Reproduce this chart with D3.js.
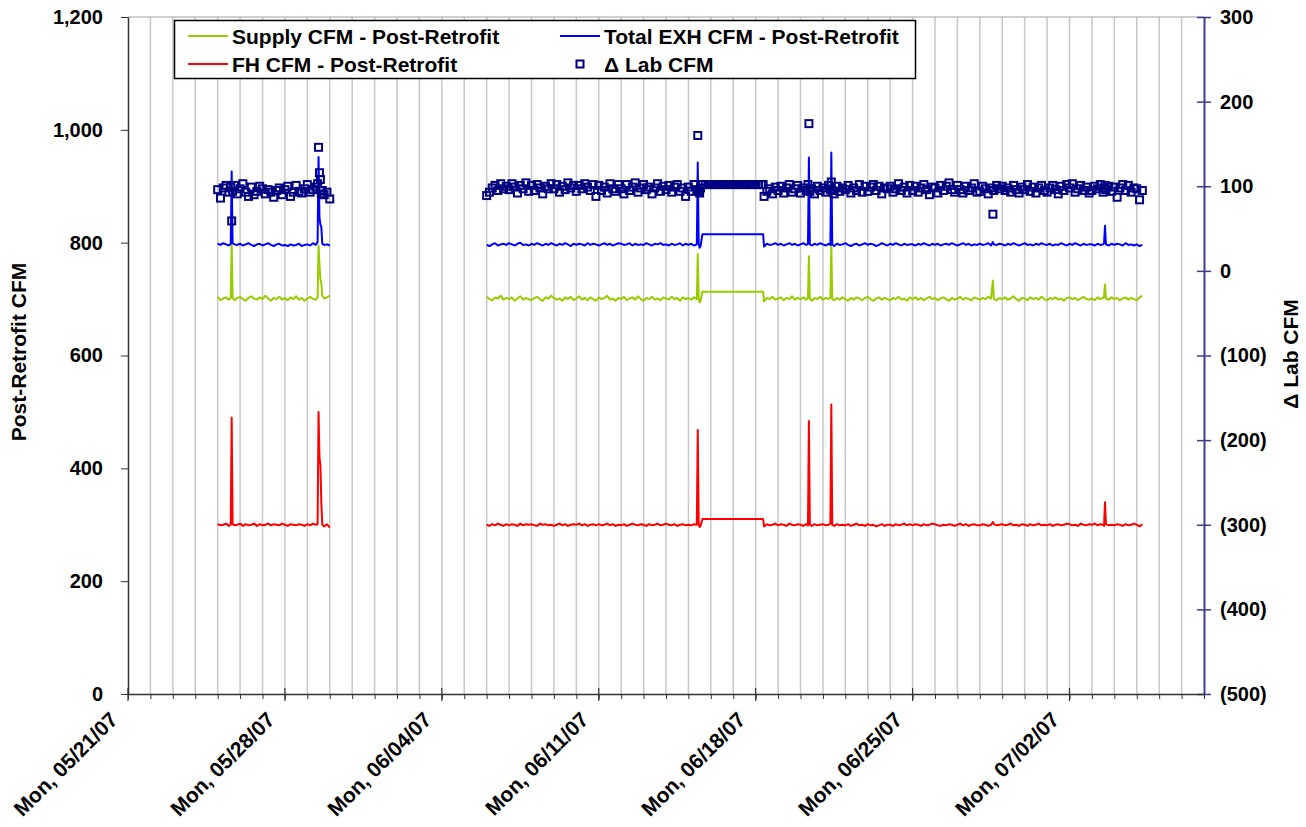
<!DOCTYPE html>
<meta charset="utf-8">
<style>
body { margin: 0; background: #fff; }
text { font-family: "Liberation Sans", Arial, sans-serif; font-weight: bold; }
.line { fill: none; stroke-width: 2px; stroke-linejoin: round; }
</style>
<script src="https://d3js.org/d3.v7.min.js"></script>
<body>
<div id="chart"></div>
</body>
<script>

// hours after Mon 05/21/07 00:00 (null row = logger gap)
var hours = [
  96,99,102,105,108,110,111,112,
  114,117,120,123,126,129,132,135,
  138,141,144,147,150,153,156,159,
  162,165,168,171,174,177,180,183,
  186,189,192,195,198,201,203,204,
  205,206,207,208,210,213,216,
  300,
  384,387,390,393,396,399,402,405,
  408,411,414,417,420,423,426,429,
  432,435,438,441,444,447,450,453,
  456,459,462,465,468,471,474,477,
  480,483,486,489,492,495,498,501,
  504,507,510,513,516,519,522,525,
  528,531,534,537,540,543,546,549,
  552,555,558,561,564,567,570,573,
  576,579,582,585,588,591,594,597,
  600,603,606,609,610,611,612,613,615,618,621,
  624,627,630,633,636,639,642,645,
  648,651,654,657,660,663,666,669,
  672,675,678,680,681,684,687,690,693,
  696,699,702,705,708,711,714,717,
  720,723,726,728,729,730,732,735,738,741,
  744,747,750,752,753,754,756,759,762,765,
  768,771,774,777,780,783,786,789,
  792,795,798,801,804,807,810,813,
  816,819,822,825,828,831,834,837,
  840,843,846,849,852,855,858,861,
  864,867,870,873,876,879,882,885,
  888,891,894,897,900,903,906,909,
  912,915,918,921,924,926,927,930,933,
  936,939,942,945,948,951,954,957,
  960,963,966,969,972,975,978,981,
  984,987,990,993,996,999,1002,1005,
  1008,1011,1014,1017,1020,1023,1026,1029,
  1032,1035,1038,1041,1044,1045,1046,1047,1050,1053,
  1056,1059,1062,1065,1068,1071,1074,1077,
  1080,1083,1086
];

var supply = [
  704,698,701,703,699,702,800,703,
  698,702,704,700,697,702,705,701,
  699,703,700,706,701,697,702,700,
  704,699,702,698,703,700,705,699,
  702,697,701,704,700,699,703,795,
  762,735,728,706,701,703,706,
  null,
  704,700,698,703,701,706,699,702,
  700,703,697,701,705,699,702,700,
  698,702,704,700,697,703,701,706,
  702,699,701,697,703,700,704,698,
  701,705,699,702,698,703,700,697,
  703,700,702,706,699,701,697,702,
  700,704,698,701,703,699,705,700,
  697,702,700,704,699,701,698,703,
  701,699,704,700,702,697,703,700,
  702,699,703,700,780,702,694,697,713,713,713,
  713,713,713,713,713,713,713,713,
  713,713,713,713,713,713,713,713,
  713,713,713,713,696,702,700,704,699,
  701,703,698,702,700,705,699,702,
  700,703,699,702,776,701,697,702,700,704,
  699,702,700,703,795,700,698,702,699,703,
  700,697,702,699,703,701,698,702,
  704,700,697,701,703,699,702,700,
  698,702,700,704,699,701,697,703,
  700,703,699,702,698,701,704,700,
  702,698,701,703,700,697,702,699,
  701,704,699,702,700,698,703,701,
  699,702,700,704,701,733,700,698,702,
  700,703,699,701,705,700,697,702,
  701,698,703,700,702,699,704,700,
  698,702,700,703,699,701,697,702,
  703,700,702,698,701,704,700,699,
  701,698,703,700,702,704,726,701,699,703,
  700,702,698,701,703,699,702,700,
  698,703,706
];

var exhaust = [
  798,796,799,797,795,798,926,799,
  797,796,798,795,797,799,796,794,
  797,798,795,797,799,796,794,797,
  798,795,796,794,797,795,796,798,
  794,796,797,795,799,796,801,952,
  845,832,828,798,796,797,795,
  null,
  796,794,797,799,795,797,798,796,
  799,797,795,798,800,796,797,795,
  798,796,799,797,795,798,796,799,
  797,795,798,796,799,797,794,798,
  796,798,797,795,799,796,798,797,
  795,797,799,796,798,795,797,799,
  798,796,797,799,795,798,796,797,
  796,799,797,795,798,797,799,796,
  797,795,798,796,797,799,795,798,
  796,798,795,797,942,798,791,794,815,815,815,
  815,815,815,815,815,815,815,815,
  815,815,815,815,815,815,815,815,
  815,815,815,815,793,798,796,797,799,
  796,798,795,797,799,796,798,795,
  797,799,796,798,951,797,795,798,796,799,
  797,795,798,796,960,797,794,798,796,797,
  799,796,794,797,798,795,797,799,
  796,798,797,794,796,799,797,795,
  798,796,799,797,795,798,796,797,
  797,795,798,796,799,797,795,798,
  796,798,795,797,798,796,799,797,
  795,797,799,796,798,795,797,796,
  798,796,797,799,795,801,797,796,798,
  797,795,798,796,799,797,795,797,
  799,796,797,795,798,796,799,797,
  796,798,795,797,796,799,797,795,
  798,796,799,797,795,798,796,797,
  797,795,798,796,797,799,830,797,795,798,
  796,798,797,795,799,796,797,795,
  797,794,796
];

var fumeHood = [
  301,299,300,302,298,300,490,301,
  299,300,302,298,301,299,300,302,
  298,301,299,300,302,299,301,300,
  299,302,300,298,301,300,299,301,
  300,298,301,299,302,300,301,500,
  420,405,340,300,297,301,295,
  null,
  300,298,301,299,302,300,298,301,
  299,301,300,298,302,299,301,300,
  301,299,298,302,300,301,299,300,
  298,300,302,299,301,298,300,301,
  300,302,299,301,298,300,301,299,
  301,299,300,302,299,301,298,300,
  299,301,298,300,302,300,299,301,
  300,298,301,299,300,302,299,300,
  302,300,299,301,298,300,301,299,
  300,299,301,300,468,301,296,298,310,310,310,
  310,310,310,310,310,310,310,310,
  310,310,310,310,310,310,310,310,
  310,310,310,310,297,301,299,300,302,
  299,301,300,298,302,300,299,301,
  300,298,301,299,484,300,298,301,299,300,
  301,299,300,302,513,300,298,301,299,300,
  299,301,298,300,302,299,300,298,
  301,299,300,297,299,301,298,300,
  300,298,301,299,300,302,299,301,
  299,301,300,298,301,299,300,302,
  301,299,298,300,299,301,300,298,
  300,302,299,301,298,300,301,299,
  299,301,300,298,300,305,301,299,300,
  301,299,300,302,299,300,298,301,
  300,298,301,299,300,302,299,300,
  299,301,298,300,301,299,300,302,
  301,299,300,298,302,300,299,301,
  300,302,299,301,300,298,340,301,299,300,
  299,301,300,298,301,299,300,302,
  300,297,301
];

var deltaLab = [
  96,86,98,101,93,99,59,94,
  101,91,97,103,93,88,99,90,
  94,100,97,91,96,93,87,95,
  98,90,96,100,88,93,101,94,
  92,97,102,93,96,99,103,146,
  116,108,91,95,90,93,85,
  null,
  89,93,98,101,95,103,97,100,
  96,103,99,92,101,97,104,94,
  101,95,102,98,91,100,97,103,
  97,102,93,100,96,104,98,101,
  94,101,97,103,99,95,102,88,
  101,95,99,92,103,97,94,102,
  97,91,102,95,99,104,93,98,
  102,96,99,91,98,103,94,100,
  96,101,93,99,102,94,98,88,
  99,94,102,96,160,94,92,98,102,102,102,
  102,102,102,102,102,102,102,102,
  102,102,102,102,102,102,102,102,
  102,102,102,102,88,94,97,91,99,
  95,100,92,98,102,93,97,101,
  92,98,95,102,174,94,97,91,100,95,
  98,93,101,96,105,95,91,100,94,98,
  96,101,92,98,95,102,93,100,
  94,99,102,95,100,91,98,97,
  100,93,97,103,95,99,92,101,
  95,100,93,98,102,96,90,99,
  98,92,101,95,100,104,96,93,
  101,96,92,100,95,98,103,93,
  94,100,97,91,98,67,95,101,97,
  100,95,98,93,101,96,92,99,
  96,102,94,99,92,98,101,95,
  93,98,101,96,91,100,95,102,
  98,103,93,97,101,95,99,92,
  95,100,97,102,93,98,101,96,100,94,
  99,87,98,102,95,101,93,98,
  97,84,95
];

var leftTicks = [0, 200, 400, 600, 800, 1000, 1200];
var rightTicks = [-500, -400, -300, -200, -100, 0, 100, 200, 300];
var weekTicks = ["2007-05-21", "2007-05-28", "2007-06-04", "2007-06-11",
                 "2007-06-18", "2007-06-25", "2007-07-02"];

// plot box
var plotLeft = 128, plotRight = 1204, plotTop = 17, plotBottom = 694;

var t0 = Date.UTC(2007, 4, 21);
var x = d3.scaleUtc()
    .domain([new Date(t0), new Date(Date.UTC(2007, 6, 8))])
    .range([plotLeft, plotRight]);
var yL = d3.scaleLinear().domain([0, 1200]).range([plotBottom, plotTop]);
var yR = d3.scaleLinear().domain([-500, 300]).range([plotBottom, plotTop]);

var data = hours.map(function(h, i) {
  return { date: new Date(t0 + h * 36e5), s: supply[i], e: exhaust[i],
           f: fumeHood[i], d: deltaLab[i] };
});

var svg = d3.select("#chart").append("svg")
    .attr("width", 1306)
    .attr("height", 827);

svg.append("rect").attr("width", 1306).attr("height", 827).attr("fill", "#fff");

// daily vertical grid
var days = d3.utcDay.range(d3.utcDay.offset(x.domain()[0], 1), x.domain()[1]);
svg.append("g").selectAll("line")
    .data(days)
  .join("line")
    .attr("x1", function(d) { return x(d); })
    .attr("x2", function(d) { return x(d); })
    .attr("y1", plotTop)
    .attr("y2", plotBottom)
    .attr("stroke", "#c8c8c8")
    .attr("stroke-width", 1.5);

svg.append("line")
    .attr("x1", plotLeft).attr("x2", plotRight)
    .attr("y1", plotTop).attr("y2", plotTop)
    .attr("stroke", "#a0a0a0");

function lineFor(key) {
  return d3.line()
      .defined(function(d) { return d[key] != null; })
      .x(function(d) { return x(d.date); })
      .y(function(d) { return yL(d[key]); });
}

var series = [
  { key: "s", color: "#99cc00" },
  { key: "e", color: "#0000ff" },
  { key: "f", color: "#ff0000" }
];
series.forEach(function(s) {
  svg.append("path")
      .datum(data)
      .attr("class", "line")
      .attr("stroke", s.color)
      .attr("d", lineFor(s.key));
});

// delta lab markers on the right axis
svg.append("g").selectAll("rect")
    .data(data.filter(function(d) { return d.d != null; }))
  .join("rect")
    .attr("x", function(d) { return x(d.date) - 3.5; })
    .attr("y", function(d) { return yR(d.d) - 3.5; })
    .attr("width", 7)
    .attr("height", 7)
    .attr("fill", "none")
    .attr("stroke", "#000080")
    .attr("stroke-width", 2);

// left axis
var gl = svg.append("g")
    .attr("transform", "translate(" + plotLeft + ",0)")
    .call(d3.axisLeft(yL).tickValues(leftTicks).tickSize(7).tickSizeOuter(0)
          .tickPadding(18).tickFormat(d3.format(",")));
gl.attr("color", "#333").attr("font-size", 20).attr("font-family", null);
gl.select(".domain").attr("stroke-width", 1.5);
gl.selectAll("text").attr("fill", "#000");

// right axis
var gr = svg.append("g")
    .attr("transform", "translate(" + plotRight + ",0)")
    .call(d3.axisRight(yR).tickValues(rightTicks).tickSize(7).tickSizeOuter(0)
          .tickPadding(9)
          .tickFormat(function(v) { return v < 0 ? "(" + (-v) + ")" : v; }));
gr.attr("color", "#3c3c8c").attr("font-size", 20).attr("font-family", null);
gr.select(".domain").attr("stroke-width", 2);
gr.selectAll(".tick line").attr("x1", -7).attr("stroke-width", 1.5);
gr.selectAll("text").attr("fill", "#000");

// bottom axis: daily minor ticks, weekly major ticks
var gb = svg.append("g")
    .attr("transform", "translate(0," + plotBottom + ")")
    .call(d3.axisBottom(x)
          .tickValues(d3.utcDay.range(x.domain()[0], d3.utcDay.offset(x.domain()[1], 1)))
          .tickSize(5).tickSizeOuter(0).tickFormat(""));
gb.attr("color", "#333");
gb.select(".domain").attr("stroke-width", 1.5);

var parseDay = d3.utcParse("%Y-%m-%d");
var fmt = d3.utcFormat("%a, %m/%d/%y");
var weeks = weekTicks.map(parseDay);

gb.selectAll(".major")
    .data(weeks)
  .join("line")
    .attr("class", "major")
    .attr("x1", function(d) { return x(d); })
    .attr("x2", function(d) { return x(d); })
    .attr("y1", -6)
    .attr("y2", 7)
    .attr("stroke", "#333")
    .attr("stroke-width", 1.2);

svg.append("g").selectAll("text")
    .data(weeks)
  .join("text")
    .attr("transform", function(d) {
      return "translate(" + (x(d) - 9) + "," + (plotBottom + 27) + ") rotate(-45)";
    })
    .attr("text-anchor", "end")
    .attr("font-size", 21)
    .text(function(d) { return fmt(d); });

// axis titles
svg.append("text")
    .attr("transform", "translate(26,352) rotate(-90)")
    .attr("text-anchor", "middle")
    .attr("font-size", 21)
    .text("Post-Retrofit CFM");

svg.append("text")
    .attr("transform", "translate(1298,354) rotate(-90)")
    .attr("text-anchor", "middle")
    .attr("font-size", 21)
    .text("\u0394 Lab CFM");

// legend
var lg = svg.append("g");
lg.append("rect")
    .attr("x", 174.5).attr("y", 20.5)
    .attr("width", 741).attr("height", 58)
    .attr("fill", "#fff")
    .attr("stroke", "#000")
    .attr("stroke-width", 1.5);

var legendItems = [
  { label: "Supply CFM - Post-Retrofit", color: "#99cc00", lx: 188, ly: 36 },
  { label: "FH CFM - Post-Retrofit", color: "#ff0000", lx: 188, ly: 64 },
  { label: "Total EXH CFM - Post-Retrofit", color: "#0000ff", lx: 560, ly: 36 }
];
legendItems.forEach(function(it) {
  lg.append("line")
      .attr("x1", it.lx).attr("x2", it.lx + 40)
      .attr("y1", it.ly).attr("y2", it.ly)
      .attr("stroke", it.color)
      .attr("stroke-width", 2);
  lg.append("text")
      .attr("x", it.lx + 44)
      .attr("y", it.ly + 7.5)
      .attr("font-size", 21)
      .text(it.label);
});
lg.append("rect")
    .attr("x", 576.5).attr("y", 60.5)
    .attr("width", 7).attr("height", 7)
    .attr("fill", "none")
    .attr("stroke", "#000080")
    .attr("stroke-width", 2);
lg.append("text")
    .attr("x", 604)
    .attr("y", 71.5)
    .attr("font-size", 21)
    .text("\u0394 Lab CFM");

</script>
